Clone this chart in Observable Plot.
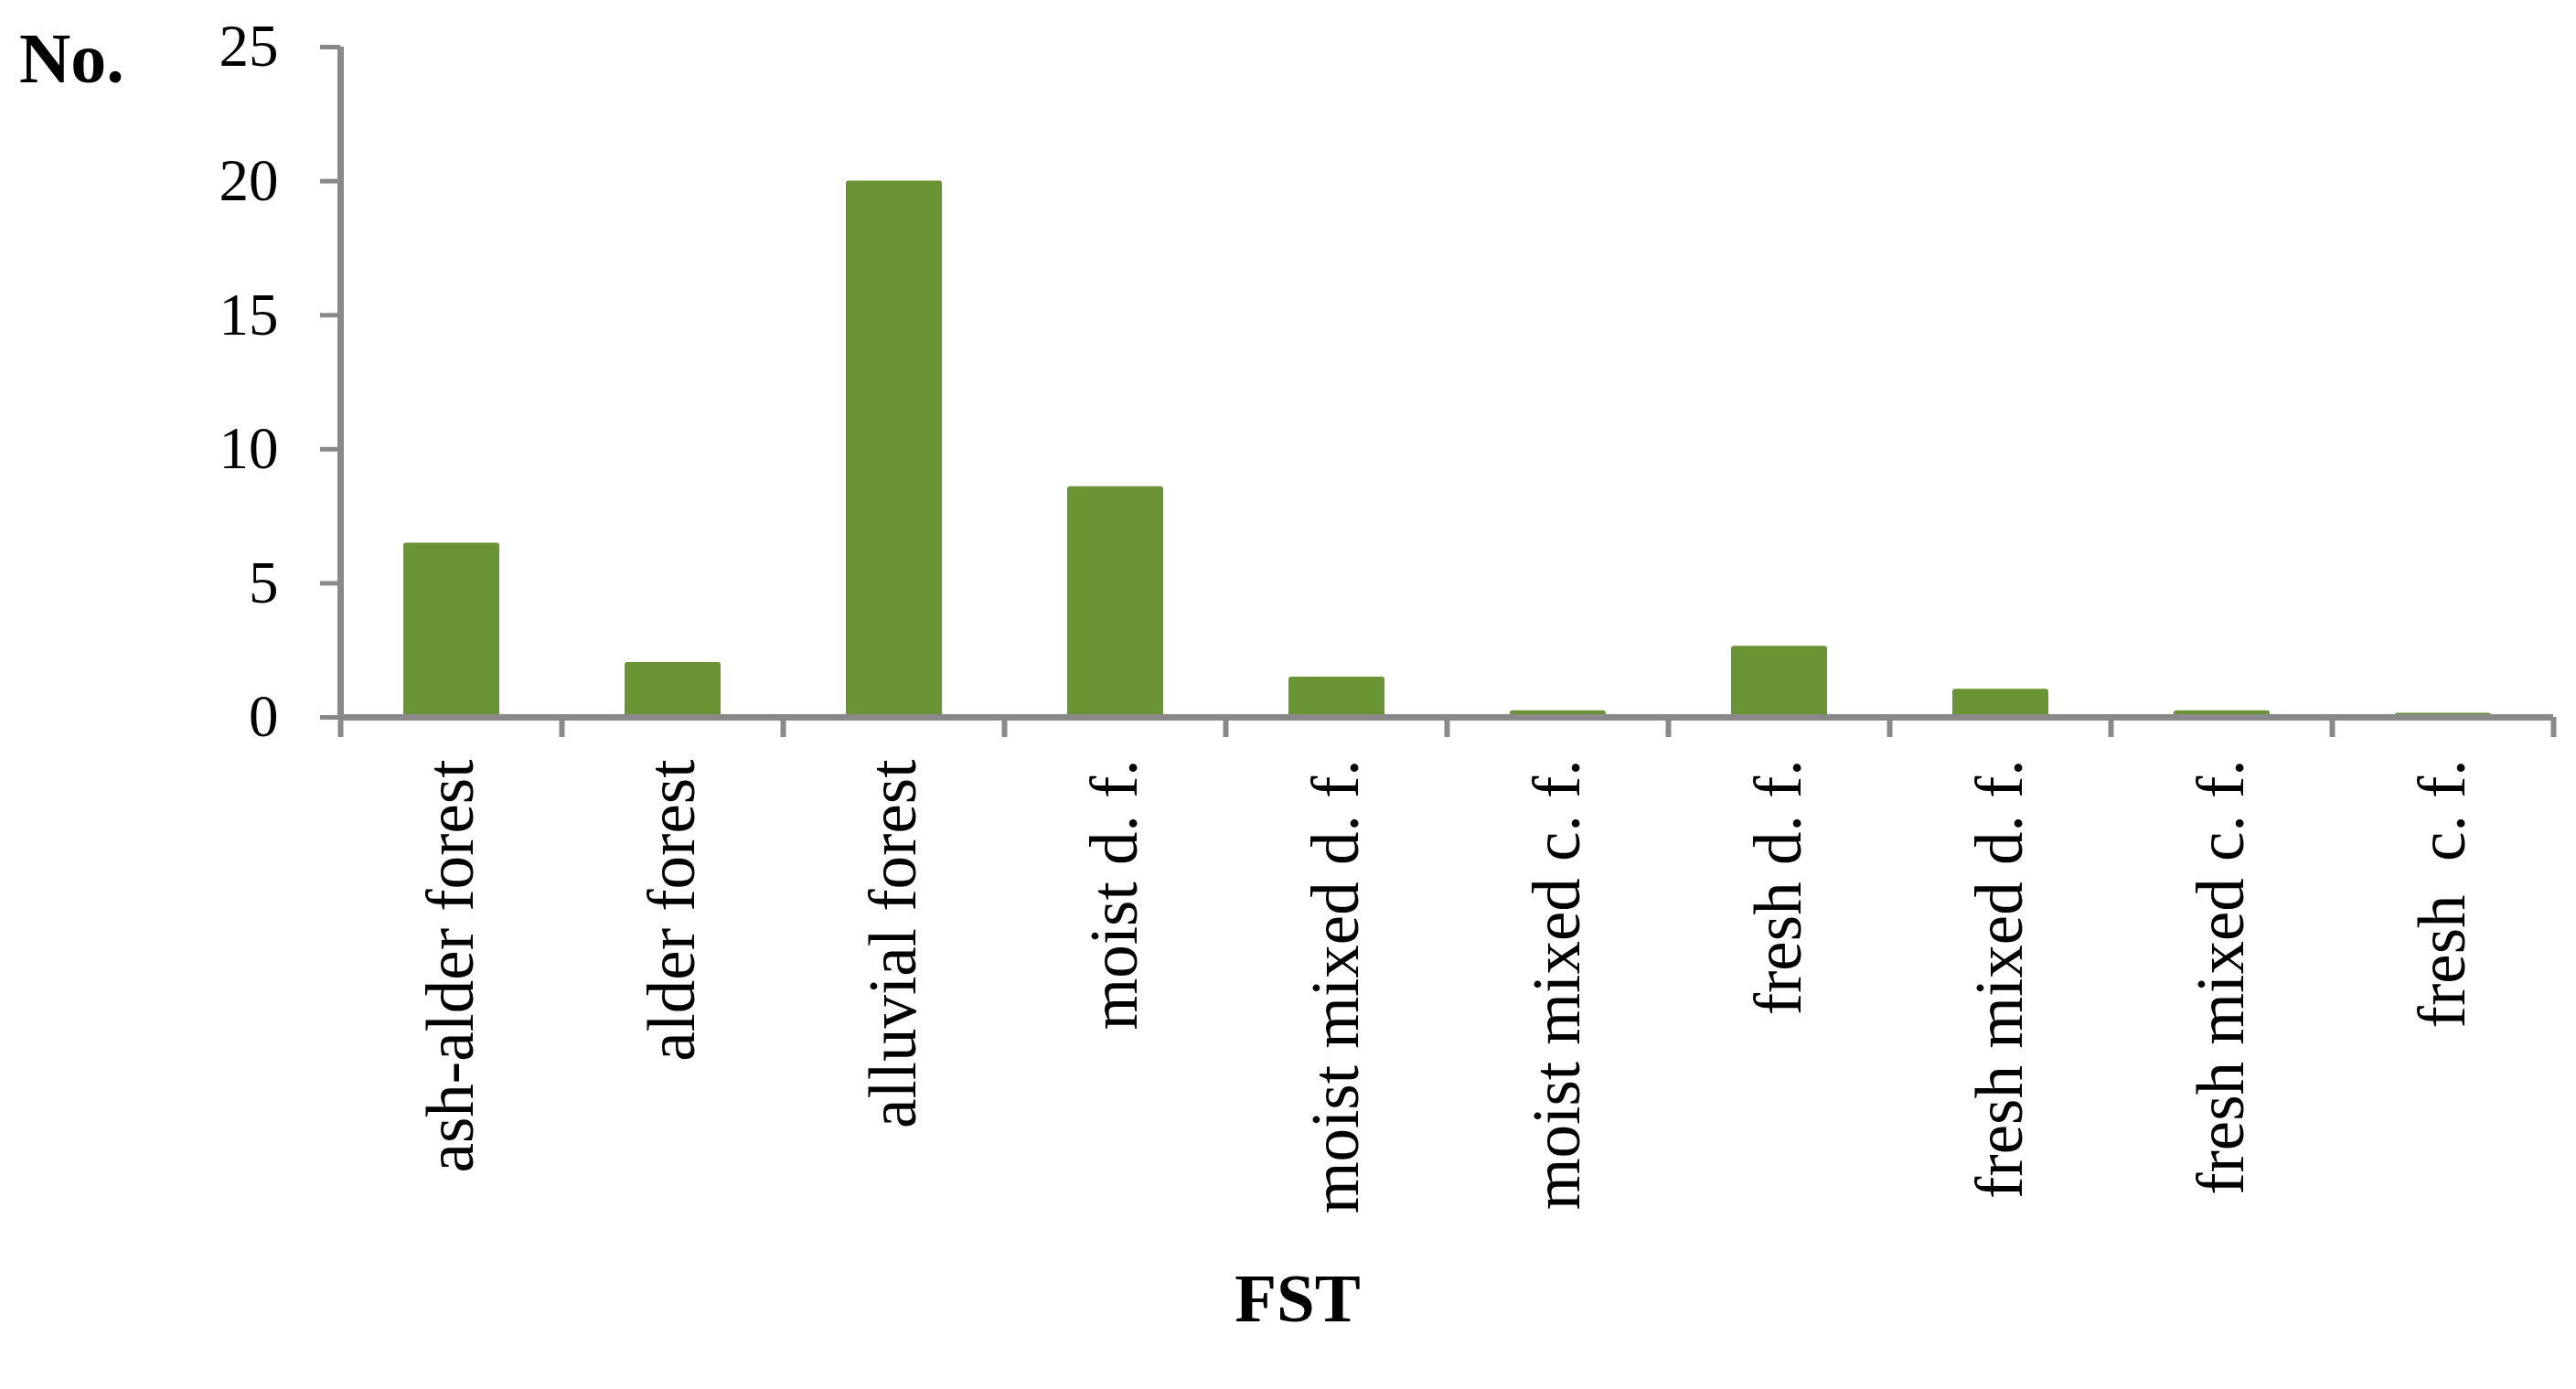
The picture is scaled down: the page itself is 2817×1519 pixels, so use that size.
<!DOCTYPE html>
<html>
<head>
<meta charset="utf-8">
<script src="https://cdn.jsdelivr.net/npm/d3@7"></script>
<script src="https://cdn.jsdelivr.net/npm/@observablehq/plot@0.6"></script>
<style>
  html, body { margin: 0; padding: 0; background: #fff; }
  #wrap { position: relative; width: 2817px; height: 1519px; overflow: hidden; font-family: "Liberation Serif", serif; }
  #wrap svg { position: absolute; left: 0; top: 0; white-space: pre; }
  .lbl { position: absolute; font-weight: bold; color: #000; line-height: 1; white-space: nowrap; }
</style>
</head>
<body>
<div id="wrap">
  <div class="lbl" id="ylab" style="left:21px; top:25px; font-size:78px;">No.</div>
  <div class="lbl" id="xlab" style="left:1419px; top:1382px; font-size:75px; transform: translateX(-50%);">FST</div>
</div>
<script>
const categories = ["ash-alder forest", "alder forest", "alluvial forest", "moist d. f.", "moist mixed d. f.", "moist mixed c. f.", "fresh d. f.", "fresh mixed d. f.", "fresh mixed c. f.", "fresh  c. f."];
const values = [6.5, 2.05, 20, 8.6, 1.5, 0.25, 2.65, 1.05, 0.25, 0.15];
const yTicks = [0, 5, 10, 15, 20, 25];

const data = categories.map((c, i) => ({i, category: c, value: values[i]}));
const boundaries = d3.range(categories.length + 1);
const centers = categories.map((c, i) => i + 0.5);

const gray = "#898989";
const green = "#6a9434";

const chart = Plot.plot({
  width: 2817,
  height: 1519,
  marginLeft: 372,
  marginRight: 25,
  marginTop: 51,
  marginBottom: 735,
  style: {fontFamily: "Liberation Serif", background: "#fff", color: "#000"},
  x: {type: "linear", domain: [0, categories.length]},
  y: {domain: [0, 25]},
  marks: [
    Plot.rectY(data, {x1: "i", x2: d => d.i + 1, y: "value", fill: green, insetLeft: 69, insetRight: 68, rx: 3}),
    Plot.ruleX([0], {stroke: gray, strokeWidth: 7}),
    Plot.ruleY([0], {stroke: gray, strokeWidth: 7}),
    Plot.axisY({ticks: yTicks, tickSize: 22, tickPadding: 46, stroke: gray, strokeWidth: 5, strokeOpacity: 1, fill: "#000", fontSize: 65, label: null}),
    Plot.axisX({ticks: boundaries, tickSize: 22, tickFormat: () => "", stroke: gray, strokeWidth: 6, strokeOpacity: 1, label: null}),
    Plot.axisX({ticks: centers, tickSize: 0, tickPadding: 46, tickRotate: -90, tickFormat: d => categories[Math.floor(d)], fill: "#000", fontSize: 73, label: null})
  ]
});
document.getElementById("wrap").prepend(chart);
</script>
</body>
</html>
